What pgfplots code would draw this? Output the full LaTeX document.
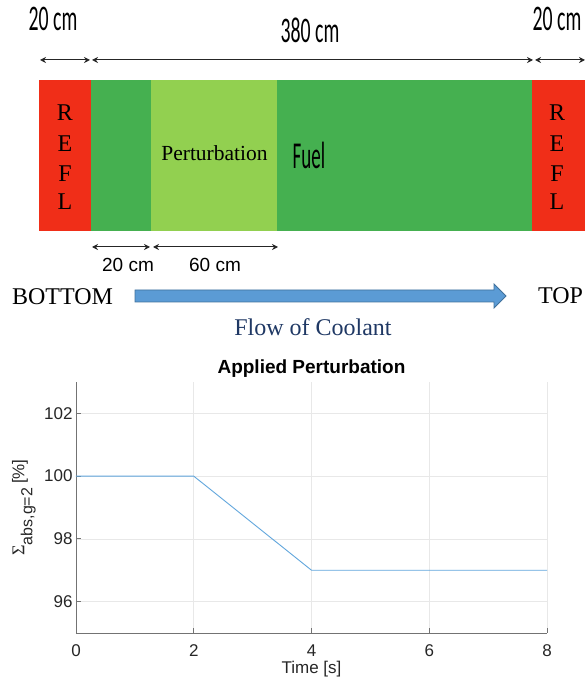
\documentclass[border=0pt]{standalone}
\usepackage{pgfplots}
\pgfplotsset{compat=1.18}
\usepackage{fontspec}
\setmainfont{Liberation Sans}
\newfontfamily\carl{Carlito}
\newfontfamily\tnr{Liberation Serif}
\usetikzlibrary{arrows.meta}
\definecolor{reflred}{RGB}{240,46,24}
\definecolor{fuelgreen}{RGB}{69,176,80}
\definecolor{pertgreen}{RGB}{146,208,80}
\definecolor{flowblue}{RGB}{91,155,213}
\definecolor{flowedge}{RGB}{65,113,156}
\definecolor{navy}{RGB}{31,56,100}
\definecolor{mblue}{RGB}{95,165,220}
\begin{document}
\begin{tikzpicture}
\path (0,0) rectangle (587pt,688pt);
% ---------- diagram ----------
\begin{axis}[at={(0pt,0pt)}, anchor=south west, width=587pt, height=688pt, scale only axis,
  xmin=0, xmax=587, ymin=0, ymax=688, y dir=reverse, hide axis, clip=false]
\addplot[draw=none, fill=reflred] coordinates {(39,80) (91,80) (91,231) (39,231)} -- cycle;
\addplot[draw=none, fill=fuelgreen] coordinates {(91,80) (151,80) (151,231) (91,231)} -- cycle;
\addplot[draw=none, fill=pertgreen] coordinates {(151,80) (277,80) (277,231) (151,231)} -- cycle;
\addplot[draw=none, fill=fuelgreen] coordinates {(277,80) (532,80) (532,231) (277,231)} -- cycle;
\addplot[draw=none, fill=reflred] coordinates {(532,80) (585,80) (585,231) (532,231)} -- cycle;
% dimension arrows
\addplot[black!85, line width=1pt, {Stealth[length=6pt,width=6pt]}-{Stealth[length=6pt,width=6pt]}] coordinates {(40,60) (90,60)};
\addplot[black!85, line width=1pt, {Stealth[length=6pt,width=6pt]}-{Stealth[length=6pt,width=6pt]}] coordinates {(92,60) (533,60)};
\addplot[black!85, line width=1pt, {Stealth[length=6pt,width=6pt]}-{Stealth[length=6pt,width=6pt]}] coordinates {(535,60) (585,60)};
\addplot[black!85, line width=1pt, {Stealth[length=6pt,width=6pt]}-{Stealth[length=6pt,width=6pt]}] coordinates {(92,247) (150,247)};
\addplot[black!85, line width=1pt, {Stealth[length=6pt,width=6pt]}-{Stealth[length=6pt,width=6pt]}] coordinates {(153,247) (278,247)};
% flow arrow
\addplot[draw=flowedge, fill=flowblue, line width=0.8pt] coordinates {(135,290) (494,290) (494,284) (506,296) (494,308) (494,302) (135,302)} -- cycle;
% texts
\node at (axis cs:53,19) {\scalebox{0.55}[1]{\carl\fontsize{36}{36}\selectfont 20 cm}};
\node at (axis cs:310,30) {\scalebox{0.55}[1]{\carl\fontsize{36}{36}\selectfont 380 cm}};
\node at (axis cs:557,19) {\scalebox{0.55}[1]{\carl\fontsize{36}{36}\selectfont 20 cm}};
\node at (axis cs:65,113) {\tnr\fontsize{24}{24}\selectfont R};
\node at (axis cs:65,144) {\tnr\fontsize{24}{24}\selectfont E};
\node at (axis cs:65,174) {\tnr\fontsize{24}{24}\selectfont F};
\node at (axis cs:65,202) {\tnr\fontsize{24}{24}\selectfont L};
\node at (axis cs:557,113) {\tnr\fontsize{24}{24}\selectfont R};
\node at (axis cs:557,144) {\tnr\fontsize{24}{24}\selectfont E};
\node at (axis cs:557,174) {\tnr\fontsize{24}{24}\selectfont F};
\node at (axis cs:557,202) {\tnr\fontsize{24}{24}\selectfont L};
\node at (axis cs:214.5,153) {\tnr\fontsize{21.5}{21.5}\selectfont Perturbation};
\node at (axis cs:309,155.5) {\scalebox{0.5}[1]{\carl\fontsize{38}{38}\selectfont Fuel}};
\node at (axis cs:128,265) {\fontsize{19}{19}\selectfont 20 cm};
\node at (axis cs:215,265) {\fontsize{19}{19}\selectfont 60 cm};
\node at (axis cs:62.5,297) {\tnr\fontsize{24}{24}\selectfont BOTTOM};
\node at (axis cs:560.5,296) {\tnr\fontsize{24}{24}\selectfont TOP};
\node[text=navy] at (axis cs:313,327) {\tnr\fontsize{24}{24}\selectfont Flow of Coolant};
\end{axis}
% ---------- plot ----------
\begin{axis}[at={(76pt,55pt)}, anchor=south west, width=471pt, height=251pt, scale only axis,
  xmin=0, xmax=8, ymin=95, ymax=103,
  xtick={0,2,4,6,8}, ytick={96,98,100,102},
  axis lines=left, axis line style={-, black!55, line width=0.8pt},
  tick align=inside, major tick length=5pt, tick style={black!55, line width=0.8pt},
  grid=major, grid style={black!9, line width=0.6pt},
  ticklabel style={font=\fontsize{17}{17}\selectfont, text=black!85},
  /pgf/number format/assume math mode=true,
  xticklabel style={anchor=center, yshift=-18pt},
  title={\textbf{Applied Perturbation}},
  title style={font=\fontsize{19}{19}\selectfont, at={(0.5,1)}, anchor=south, yshift=-5pt},
  xlabel={Time [s]},
  xlabel style={font=\fontsize{17}{17}\selectfont, text=black!85, at={(0.5,0)}, anchor=center, yshift=-36pt},
  ylabel={{\tnr\fontsize{18}{18}\selectfont Σ}\raisebox{-8pt}{\fontsize{16}{16}\selectfont abs,g=2}\hspace{4pt}{\fontsize{17}{17}\selectfont[\%]}},
  ylabel style={text=black!85, at={(0,0.5)}, anchor=center, yshift=52pt},
]
\addplot[mblue, line width=0.9pt] coordinates {(0,100) (2,100) (4,97) (8,97)};
\end{axis}
\end{tikzpicture}
\end{document}
